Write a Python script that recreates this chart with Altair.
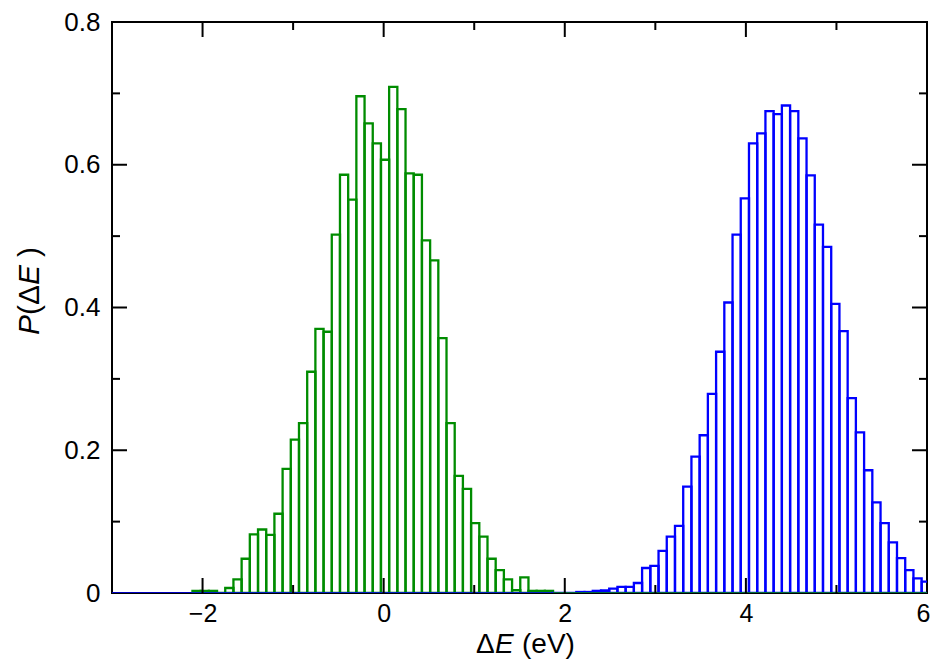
import altair as alt
import pandas as pd

# ---- data ----
green_start = -2.1115
green_width = 0.0905
green_vals = [0.003, 0.003, 0.003, 0.0, 0.007, 0.019, 0.048, 0.082, 0.089, 0.0815,
              0.111, 0.174, 0.215, 0.238, 0.310, 0.370, 0.366, 0.502, 0.586, 0.551,
              0.696, 0.658, 0.630, 0.607, 0.709, 0.678, 0.588, 0.586, 0.494, 0.466,
              0.357, 0.238, 0.164, 0.146, 0.098, 0.079, 0.048, 0.032, 0.019, 0.004,
              0.022, 0.003, 0.003, 0.003]

blue_start = 1.855
blue_width = 0.0908
blue_vals = [0.0, 0.0, 0.0, 0.0014, 0.0014, 0.003, 0.0035, 0.006, 0.0085, 0.0085,
             0.014, 0.035, 0.038, 0.059, 0.079, 0.094, 0.149, 0.191, 0.221, 0.279,
             0.338, 0.407, 0.502, 0.553, 0.630, 0.644, 0.675, 0.671, 0.683, 0.675,
             0.637, 0.585, 0.516, 0.485, 0.405, 0.367, 0.273, 0.225, 0.172, 0.127,
             0.098, 0.071, 0.049, 0.032, 0.0205, 0.016]

x_domain = [-3, 6]
y_domain = [0, 0.8]
x_labels = [-2, 0, 2, 4, 6]
y_labels = [0, 0.2, 0.4, 0.6, 0.8]
x_major = [-2, 0, 2, 4]
x_minor = [-1, 1, 3, 5]
y_major = [0.2, 0.4, 0.6]
y_minor = [0.1, 0.3, 0.5, 0.7]

GREEN = "#008C00"
BLUE = "#0000FF"
W, H = 815, 571
FONT = "Liberation Sans"


def hist_df(start, width, vals):
    rows = []
    for i, v in enumerate(vals):
        x0 = start + i * width
        rows.append({"x0": x0, "x1": x0 + width, "p": v, "z": 0.0})
    return pd.DataFrame(rows)


gdf = hist_df(green_start, green_width, green_vals)
bdf = hist_df(blue_start, blue_width, blue_vals)

xs = alt.Scale(domain=x_domain, nice=False, zero=False)
ys = alt.Scale(domain=y_domain, nice=False)
xax = alt.Axis(values=x_labels, ticks=False, tickSize=0, domain=False, grid=False, title=None,
               labelFont=FONT, labelFontSize=25, labelColor="black", labelPadding=8,
               format="d", labelFlush=True, labelFlushOffset=3, labelOverlap=False)
yax = alt.Axis(values=y_labels, ticks=False, tickSize=0, domain=False, grid=False, title=None,
               labelFont=FONT, labelFontSize=26, labelColor="black", labelPadding=12,
               format="~g", labelFlush=False, labelOverlap=False)


def hist_layer(df, color):
    return alt.Chart(df).mark_rect(fillOpacity=0, stroke=color, strokeWidth=2.3, clip=True).encode(
        x=alt.X("x0:Q", scale=xs, axis=xax),
        x2="x1:Q",
        y=alt.Y("p:Q", scale=ys, axis=yax),
        y2="z:Q",
    )


base_df = pd.DataFrame({
    "a": [x_domain[0], green_start + len(green_vals) * green_width],
    "b": [blue_start, x_domain[1]],
    "z": [0.0, 0.0],
    "c": [BLUE, GREEN],
})
baseline = alt.Chart(base_df).mark_rule(strokeWidth=1.5, clip=True).encode(
    x=alt.X("a:Q", scale=xs, axis=xax), x2="b:Q",
    y=alt.Y("z:Q", scale=ys, axis=yax),
    color=alt.Color("c:N", scale=None),
)


def xticks(vals, length):
    d = pd.DataFrame({"t": vals})
    bot = alt.Chart(d).mark_rule(color="black", strokeWidth=2).encode(
        x=alt.X("t:Q", scale=xs, axis=xax), y=alt.value(H), y2=alt.value(H - length))
    top = alt.Chart(d).mark_rule(color="black", strokeWidth=2).encode(
        x=alt.X("t:Q", scale=xs, axis=xax), y=alt.value(0), y2=alt.value(length))
    return [bot, top]


def yticks(vals, length):
    d = pd.DataFrame({"t": vals})
    left = alt.Chart(d).mark_rule(color="black", strokeWidth=2).encode(
        y=alt.Y("t:Q", scale=ys, axis=yax), x=alt.value(0), x2=alt.value(length))
    right = alt.Chart(d).mark_rule(color="black", strokeWidth=2).encode(
        y=alt.Y("t:Q", scale=ys, axis=yax), x=alt.value(W), x2=alt.value(W - length))
    return [left, right]


one = pd.DataFrame({"k": [0]})


def label(txt, x, y, size=30, italic=False, angle=0, align="left"):
    kw = dict(text=txt, font=FONT, fontSize=size, color="black", align=align,
              baseline="alphabetic", angle=angle)
    if italic:
        kw["fontStyle"] = "italic"
    return alt.Chart(one).mark_text(**kw).encode(x=alt.value(x), y=alt.value(y))


titles = [
    label("Δ", 364, 631, size=28),
    label("E", 383, 631, size=28, italic=True),
    label("(eV)", 410, 631, size=28),
    label("P", -73, 313, italic=True, angle=270),
    label("(Δ", -73, 293, angle=270),
    label("E", -73, 263, italic=True, angle=270),
    label(")", -73, 235, angle=270),
]

layers = [hist_layer(gdf, GREEN), hist_layer(bdf, BLUE), baseline]
layers += xticks(x_major, 15) + xticks(x_minor, 8)
layers += yticks(y_major, 15) + yticks(y_minor, 8)
layers += titles

chart = alt.layer(*layers).properties(
    width=W, height=H,
    autosize=alt.AutoSizeParams(type="none"),
    padding={"left": 104, "top": 14, "right": 4, "bottom": 66},
).configure_view(stroke="black", strokeWidth=2)

chart.save("out.html", embed_options={"renderer": "svg", "actions": False})
